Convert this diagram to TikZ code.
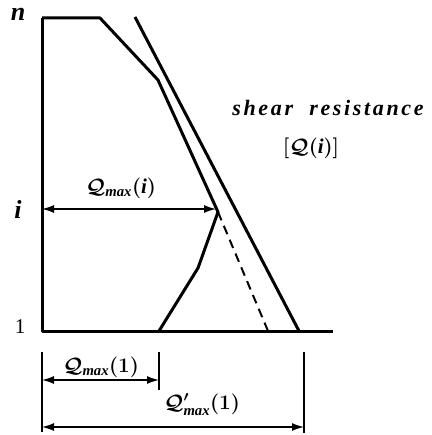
\documentclass[tikz,border=0pt]{standalone}
\usepackage{fontspec}
\setmainfont{Liberation Serif}
\newfontfamily\spacedfont[LetterSpace=12]{Liberation Serif}
\usetikzlibrary{arrows.meta}
\tikzset{
  curve/.style={line width=3pt,line join=round},
  dimline/.style={line width=1.4pt,{Latex[length=12pt,width=8pt]}-{Latex[length=12pt,width=8pt]}},
  tickline/.style={line width=1.2pt},
  storey/.style={font=\fontsize{26}{28}\selectfont\bfseries\itshape},
  qlabel/.style={font=\fontsize{21}{23}\selectfont\boldmath}
}
\begin{document}
\begin{tikzpicture}[x=1pt,y=-1pt]
  \useasboundingbox (0,0) rectangle (431,435);
  \coordinate (top) at (42,18);
  \coordinate (bottom) at (42,331);
  \coordinate (base) at (333,331);
  \coordinate (flat) at (100,18);
  \coordinate (kink) at (158,80);
  \coordinate (peak) at (218,212);
  \coordinate (bend) at (198,268);
  \coordinate (foot) at (159,331);
  \coordinate (outtop) at (135,17);
  \coordinate (outfoot) at (299,331);
  \coordinate (dashfoot) at (268,331);
  \draw[curve] (top) -- (bottom) -- (base);
  \draw[curve] (top) -- (flat) -- (kink) -- (peak) -- (bend) -- (foot);
  \draw[curve] (outtop) -- (outfoot);
  \draw[line width=2pt,dash pattern=on 9pt off 6pt] (peak) -- (dashfoot);
  \node[storey] (ln) at (18,14) {n};
  \node[storey] (li) at (18,209) {i};
  \node[font=\fontsize{21}{22}\selectfont] (l1) at (20,327) {1};
  \coordinate (ia) at (42,209);
  \coordinate (ib) at (216,209);
  \draw[dimline] (ia) -- (ib);
  \node[qlabel] (qi) at (121,188) {$\mathcal{Q}_{\mathit{max}}(\mathit{i})$};
  \node[font=\fontsize{22}{24}\selectfont\bfseries\itshape\spacedfont] (shear) at (328,108) {shear\ \ resistance};
  \node[qlabel] (qres) at (311,148) {$[\mathcal{Q}(\mathit{i})]$};
  \coordinate (t0) at (42,352);
  \coordinate (t0b) at (42,432);
  \coordinate (t1) at (159,352);
  \coordinate (t1b) at (159,390);
  \coordinate (t2) at (304,352);
  \coordinate (t2b) at (304,433);
  \draw[tickline] (t0) -- (t0b);
  \draw[tickline] (t1) -- (t1b);
  \draw[tickline] (t2) -- (t2b);
  \coordinate (a0) at (42,380);
  \coordinate (a1) at (159,380);
  \coordinate (b0) at (42,427);
  \coordinate (b1) at (304,427);
  \draw[dimline] (a0) -- (a1);
  \draw[dimline] (b0) -- (b1);
  \node[qlabel] (q1) at (101,367) {$\mathcal{Q}_{\mathit{max}}(1)$};
  \node[qlabel] (q1p) at (202,405) {$\mathcal{Q}'_{\mathit{max}}(1)$};
\end{tikzpicture}
\end{document}
